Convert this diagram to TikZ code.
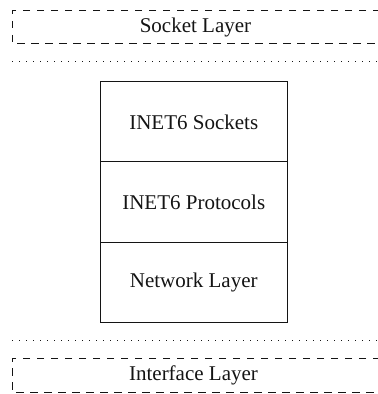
\documentclass[tikz,border=0pt]{standalone}
\usepackage{fontspec}
\setmainfont{Liberation Serif}
\definecolor{stackInk}{RGB}{20,20,20}

\begin{document}
\begin{tikzpicture}[x=0.5pt,y=-0.5pt,inner sep=0pt,outer sep=0pt,
  line width=0.5pt,draw=stackInk,
  layerbox/.style={draw=stackInk,dash pattern=on 3.75pt off 3.25pt},
  layertext/.style={text=stackInk,font=\fontsize{10.5}{12}\selectfont},
  stackrow/.style={draw,minimum width=93.25pt,minimum height=40pt,text=stackInk,font=\fontsize{10.5}{12}\selectfont},
  sep/.style={draw=stackInk,dash pattern=on 0.7pt off 2.8pt}]
\useasboundingbox (0,0) rectangle (378,394);
% socket layer, open to the right
\coordinate (socketNE) at (380.000,11.000);
\coordinate (socketNW) at (12.000,11.000);
\coordinate (socketSW) at (12.000,44.000);
\coordinate (socketSE) at (380.000,44.000);
\draw[layerbox] (socketNE) -- (socketNW) -- (socketSW) -- (socketSE);
\node[layertext] (socket) at (195.500,27.500) {Socket Layer};
\coordinate (sepTopL) at (12.000,62.000);
\coordinate (sepTopR) at (380.000,62.000);
\draw[sep] (sepTopL) -- (sepTopR);
% inet6 stack
\node[stackrow] (sockets) at (193.750,122.000) {INET6 Sockets};
\node[stackrow] (protocols) at (193.750,202.000) {INET6 Protocols};
\node[stackrow] (network) at (193.750,282.000) {Network Layer};
\coordinate (sepBotL) at (12.000,340.000);
\coordinate (sepBotR) at (380.000,340.000);
\draw[sep] (sepBotL) -- (sepBotR);
% interface layer
\coordinate (ifaceNE) at (380.000,358.000);
\coordinate (ifaceNW) at (12.000,358.000);
\coordinate (ifaceSW) at (12.000,392.000);
\coordinate (ifaceSE) at (380.000,392.000);
\draw[layerbox] (ifaceNE) -- (ifaceNW) -- (ifaceSW) -- (ifaceSE);
\node[layertext] (iface) at (193.500,375.000) {Interface Layer};
\end{tikzpicture}
\end{document}
